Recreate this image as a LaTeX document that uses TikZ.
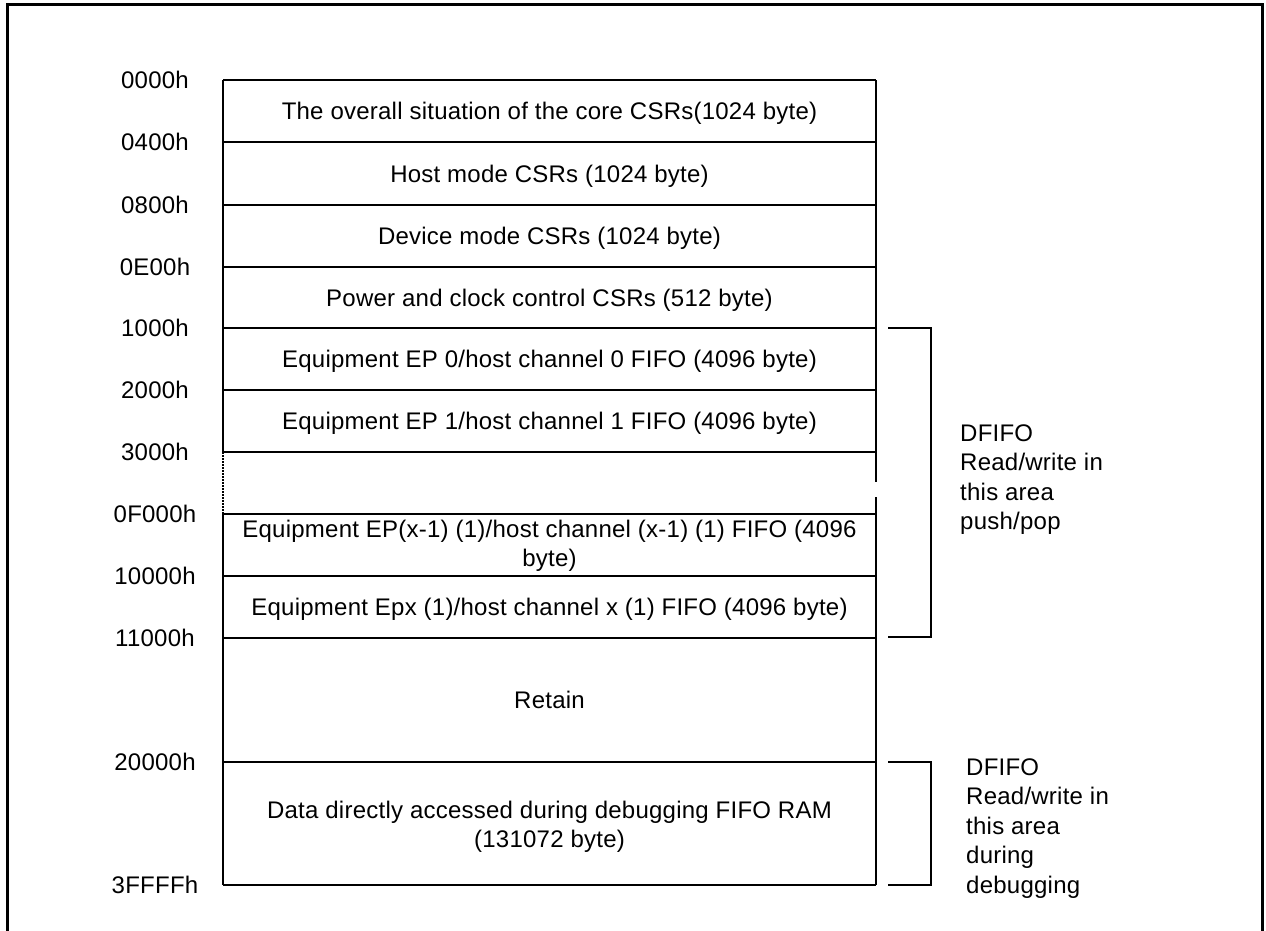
\documentclass[tikz,border=0pt]{standalone}
\usepackage{fontspec}
\setmainfont{Liberation Sans}[LetterSpace=1]
\newcommand\fsz{\fontsize{24}{29.5}\selectfont}
\begin{document}
\begin{tikzpicture}[x=1pt,y=-1pt,
  lbl/.style={font=\fsz, inner sep=0pt, anchor=center},
  rowtxt/.style={font=\fsz, align=center, inner sep=0pt, anchor=center},
  side/.style={font=\fsz, align=left, inner sep=0pt, anchor=north west},
  ln/.style={line width=1.9pt},
  dotln/.style={line width=1.6pt, dash pattern=on 1.5pt off 1.5pt},
  frame/.style={line width=3pt}]
\useasboundingbox (0,0) rectangle (1266,930);
% outer frame
\coordinate (fbl) at (7,935);
\coordinate (ftl) at (7,4);
\coordinate (ftr) at (1262,4);
\coordinate (fbr) at (1262,935);
\draw[frame] (fbl) -- (ftl) -- (ftr) -- (fbr);
% boundaries
\foreach \n/\y in {0/80,1/142,2/205,3/267,4/328,5/390,6/452,7/514,8/576,9/638,10/762,11/885}{
  \coordinate (L\n) at (223,\y);
  \coordinate (R\n) at (876,\y);
  \draw[ln] (L\n) -- (R\n);
}
% left edge
\draw[ln] (L0) -- (L6);
\draw[dotln] (L6) -- (L7);
\draw[ln] (L7) -- (L11);
% right edge with a gap
\coordinate (gapA) at (876,482);
\coordinate (gapB) at (876,497);
\draw[ln] (R0) -- (gapA);
\draw[ln] (gapB) -- (R11);
% address labels
\foreach \n/\y/\t in {0/80/0000h,1/142/0400h,2/205/0800h,3/267/0E00h,4/328/1000h,5/390/2000h,6/452/3000h,7/514/0F000h,8/576/10000h,9/638/11000h,10/762/20000h,11/885/3FFFFh}{
  \node[lbl] (a\n) at (155,\y) {\t};
}
% region texts
\node[rowtxt] (r1) at (549.5,113.5) {The overall situation of the core CSRs(1024 byte)};
\node[rowtxt] (r2) at (549.5,176) {Host mode CSRs (1024 byte)};
\node[rowtxt] (r3) at (549.5,238.5) {Device mode CSRs (1024 byte)};
\node[rowtxt] (r4) at (549.5,300) {Power and clock control CSRs (512 byte)};
\node[rowtxt] (r5) at (549.5,361.5) {Equipment EP 0/host channel 0 FIFO (4096 byte)};
\node[rowtxt] (r6) at (549.5,423.5) {Equipment EP 1/host channel 1 FIFO (4096 byte)};
\node[rowtxt] (r8) at (549.5,546) {Equipment EP(x-1) (1)/host channel (x-1) (1) FIFO (4096\\byte)};
\node[rowtxt] (r9) at (549.5,609.5) {Equipment Epx (1)/host channel x (1) FIFO (4096 byte)};
\node[rowtxt] (r10) at (549.5,700) {Retain};
\node[rowtxt] (r11) at (549.5,827) {Data directly accessed during debugging FIFO RAM\\(131072 byte)};
% brackets
\coordinate (b1a) at (888,328);
\coordinate (b1b) at (931,328);
\coordinate (b1c) at (931,637);
\coordinate (b1d) at (888,637);
\draw[ln] (b1a) -- (b1b) -- (b1c) -- (b1d);
\coordinate (b2a) at (888,762);
\coordinate (b2b) at (931,762);
\coordinate (b2c) at (931,885);
\coordinate (b2d) at (888,885);
\draw[ln] (b2a) -- (b2b) -- (b2c) -- (b2d);
\node[side] (s1) at (960,424.5) {DFIFO\\Read/write in\\this area\\push/pop};
\node[side] (s2) at (966,758.5) {DFIFO\\Read/write in\\this area\\during\\debugging};
\end{tikzpicture}
\end{document}
